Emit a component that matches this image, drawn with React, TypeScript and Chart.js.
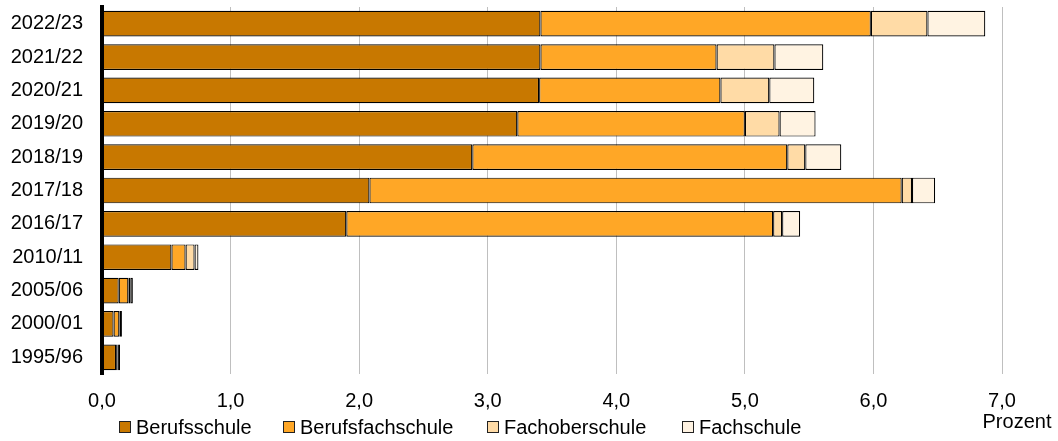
import React, { useEffect, useRef } from "react";
import { Chart, registerables } from "chart.js";

Chart.register(...registerables);

// ---- data ----
const categories = [
  "2022/23",
  "2021/22",
  "2020/21",
  "2019/20",
  "2018/19",
  "2017/18",
  "2016/17",
  "2010/11",
  "2005/06",
  "2000/01",
  "1995/96",
];
const berufsschule = [3.41, 3.41, 3.4, 3.23, 2.88, 2.08, 1.9, 0.54, 0.13, 0.09, 0.11];
const berufsfachschule = [2.57, 1.37, 1.41, 1.77, 2.45, 4.14, 3.32, 0.11, 0.075, 0.045, 0.01];
const fachoberschule = [0.44, 0.45, 0.38, 0.27, 0.14, 0.08, 0.07, 0.07, 0.015, 0.005, 0.005];
const fachschule = [0.45, 0.38, 0.35, 0.28, 0.28, 0.18, 0.14, 0.03, 0.02, 0.015, 0.015];
const seriesNames = ["Berufsschule", "Berufsfachschule", "Fachoberschule", "Fachschule"];
const xTickValues = [0, 1, 2, 3, 4, 5, 6, 7];
const unitLabel = "Prozent";

// ---- styles ----
const seriesValues = [berufsschule, berufsfachschule, fachoberschule, fachschule];
const COLORS = ["#C87800", "#FFA726", "#FFDBA6", "#FFF3E2"];
const FONT = '"Liberation Sans", Arial, Helvetica, sans-serif';
const FONT_SIZE = 20;
const legendLeft = [119, 283, 487, 682];

export default function App() {
  const canvasRef = useRef<HTMLCanvasElement | null>(null);

  useEffect(() => {
    if (!canvasRef.current) return;
    const chart = new Chart(canvasRef.current, {
      type: "bar",
      data: {
        labels: categories,
        datasets: seriesValues.map((d, i) => ({
          label: seriesNames[i],
          data: d,
          backgroundColor: COLORS[i],
          borderColor: "#000000",
          borderWidth: 1.2,
          borderSkipped: false,
          barPercentage: 0.77,
          categoryPercentage: 1,
        })),
      },
      options: {
        indexAxis: "y",
        responsive: true,
        maintainAspectRatio: false,
        animation: false,
        layout: { padding: { top: 7, right: 56, bottom: 0, left: 0 } },
        plugins: {
          legend: { display: false },
          tooltip: { enabled: false },
        },
        scales: {
          x: {
            stacked: true,
            min: 0,
            max: 7,
            afterBuildTicks: (s: any) => {
              s.ticks = xTickValues.map((v) => ({ value: v }));
            },
            grid: { color: "#bfbfbf", lineWidth: 1, drawTicks: false },
            border: { display: false },
            ticks: {
              padding: 15,
              color: "#000",
              font: { family: FONT, size: FONT_SIZE },
              maxRotation: 0,
              callback: (v: any) => Number(v).toFixed(1).replace(".", ","),
            },
            afterFit: (s: any) => {
              s.height = 67;
              s.paddingLeft = 0;
              s.paddingRight = 0;
            },
          },
          y: {
            stacked: true,
            grid: { display: false, drawTicks: false },
            border: { display: true, color: "#000", width: 4, z: 1 },
            ticks: {
              padding: 19,
              color: "#000",
              font: { family: FONT, size: FONT_SIZE },
            },
            afterFit: (s: any) => {
              s.width = 102;
              s.paddingTop = 0;
              s.paddingBottom = 0;
            },
          },
        },
      } as any,
    });
    return () => chart.destroy();
  }, []);

  return (
    <div
      style={{
        position: "fixed",
        left: 0,
        top: 0,
        width: 1058,
        height: 441,
        background: "#fff",
        fontFamily: FONT,
        color: "#000",
      }}
    >
      <div style={{ position: "absolute", left: 0, top: 0, width: 1058, height: 441 }}>
        <canvas ref={canvasRef} />
      </div>
      {seriesNames.map((name, i) => (
        <div
          key={name}
          style={{
            position: "absolute",
            left: legendLeft[i],
            top: 417,
            height: 20,
            display: "flex",
            alignItems: "center",
            fontSize: FONT_SIZE,
            lineHeight: "20px",
            whiteSpace: "nowrap",
          }}
        >
          <span
            style={{
              display: "inline-block",
              width: 10,
              height: 10,
              background: COLORS[i],
              border: "1px solid #222",
              marginRight: 5,
            }}
          />
          <span>{name}</span>
        </div>
      ))}
      <div
        style={{
          position: "absolute",
          left: 967,
          top: 411,
          width: 100,
          textAlign: "center",
          fontSize: FONT_SIZE,
          lineHeight: "20px",
          whiteSpace: "nowrap",
        }}
      >
        {unitLabel}
      </div>
    </div>
  );
}
